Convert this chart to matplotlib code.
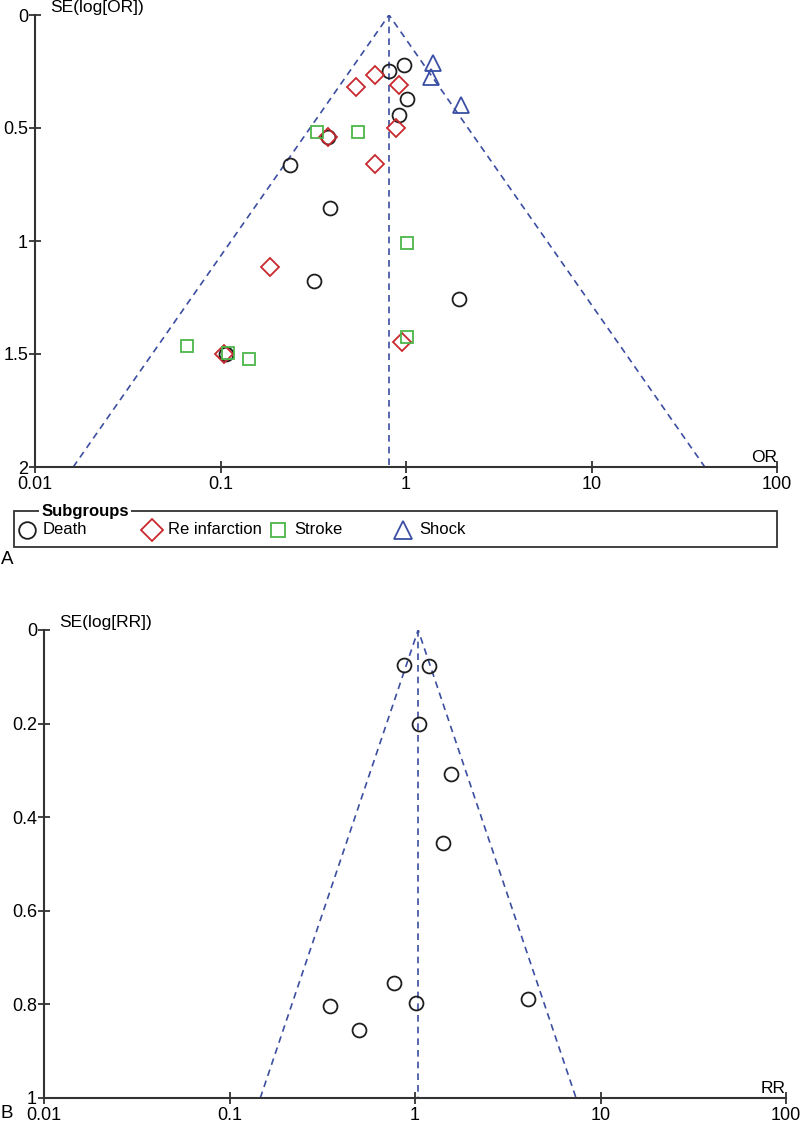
import numpy as np
import matplotlib
matplotlib.use("Agg")
import matplotlib.pyplot as plt
from matplotlib.lines import Line2D
from matplotlib.patches import Rectangle

plt.rcParams['font.family'] = ['Liberation Sans', 'DejaVu Sans']

# ---- panel A: OR funnel plot
death_or = [0.81, 0.975, 1.01, 0.92, 0.38, 0.236, 0.39, 0.32, 1.93, 0.107]
death_se = [0.248, 0.221, 0.372, 0.442, 0.54, 0.664, 0.853, 1.175, 1.257, 1.50]
reinf_or = [0.68, 0.54, 0.92, 0.88, 0.38, 0.68, 0.186, 0.105, 0.95]
reinf_se = [0.265, 0.32, 0.31, 0.50, 0.54, 0.66, 1.115, 1.50, 1.447]
stroke_or = [0.33, 0.55, 1.01, 1.01, 0.066, 0.11, 0.142]
stroke_se = [0.518, 0.516, 1.009, 1.425, 1.465, 1.495, 1.52]
shock_or = [1.40, 1.37, 1.98]
shock_se = [0.211, 0.273, 0.40]
pooled_or = 0.81
se_max_a = 2.0

# ---- panel B: RR funnel plot
rr = [0.87, 1.19, 1.05, 1.57, 1.42, 0.77, 0.347, 1.01, 4.08, 0.50]
rr_se = [0.074, 0.076, 0.201, 0.307, 0.455, 0.754, 0.803, 0.797, 0.788, 0.855]
pooled_rr = 1.04
se_max_b = 1.0

x_ticks = [0.01, 0.1, 1, 10, 100]
x_ticklabels = ['0.01', '0.1', '1', '10', '100']
y_ticks_a = [0, 0.5, 1, 1.5, 2]
y_ticklabels_a = ['0', '0.5', '1', '1.5', '2']
y_ticks_b = [0, 0.2, 0.4, 0.6, 0.8, 1]
y_ticklabels_b = ['0', '0.2', '0.4', '0.6', '0.8', '1']

subgroups = ['Death', 'Re infarction', 'Stroke', 'Shock']
markers = ['o', 'D', 's', '^']
msizes = [10, 9.5, 8.5, 11.5]
colors = ['#1e1e1e', '#c8282e', '#4db64a', '#3a4fa3']
line_col = '#3b4ea0'
axis_col = '#333333'

W, H = 800, 1127
fig = plt.figure(figsize=(W / 100, H / 100), dpi=100)


def px(x0, y0, x1, y1):
    # pixel box (top-left origin) -> figure fraction rect
    return [x0 / W, 1 - y1 / H, (x1 - x0) / W, (y1 - y0) / H]


def style_axes(ax, se_max, yticks, yticklabels, ylab, xlab):
    ax.set_xscale('log')
    ax.set_xlim(0.01, 100)
    ax.set_ylim(se_max, 0)
    ax.spines['top'].set_visible(False)
    ax.spines['right'].set_visible(False)
    for s in ['left', 'bottom']:
        ax.spines[s].set_color(axis_col)
        ax.spines[s].set_linewidth(1.5)
    ax.set_xticks(x_ticks)
    ax.set_xticklabels(x_ticklabels)
    ax.xaxis.set_minor_locator(matplotlib.ticker.NullLocator())
    ax.set_yticks(yticks)
    ax.set_yticklabels(yticklabels)
    ax.tick_params(direction='inout', length=8, width=1.3, color=axis_col,
                   labelsize=13)
    ax.tick_params(axis='x', pad=2.5)
    ax.tick_params(axis='y', pad=1)
    ax.text(0.012, 0, ylab, fontsize=12.5, ha='left', va='bottom',
            transform=ax.transData, clip_on=False)
    ax.text(1, 0.004, xlab, fontsize=12.5, ha='right', va='bottom',
            transform=ax.transAxes, clip_on=False)


def funnel(ax, pooled, se_max):
    lo = pooled * np.exp(-1.96 * se_max)
    hi = pooled * np.exp(1.96 * se_max)
    kw = dict(color=line_col, lw=1.2, ls=(0, (4, 3)), zorder=1)
    ax.plot([lo, pooled, hi], [se_max, 0, se_max], **kw)
    ax.plot([pooled, pooled], [0, se_max], **kw)


# panel A
ax1 = fig.add_axes(px(35, 15, 777, 467))
funnel(ax1, pooled_or, se_max_a)
groups = [(death_or, death_se), (reinf_or, reinf_se),
          (stroke_or, stroke_se), (shock_or, shock_se)]
for (xs, ys), m, ms, c in zip(groups, markers, msizes, colors):
    ax1.plot(xs, ys, ls='none', marker=m, ms=ms, mfc='none', mec=c, mew=1.3,
             clip_on=False, zorder=3)
style_axes(ax1, se_max_a, y_ticks_a, y_ticklabels_a, 'SE(log[OR])', 'OR')

# legend box
fig.add_artist(Rectangle((14 / W, 1 - 547 / H), (777 - 14) / W, 36 / H,
                         transform=fig.transFigure, fill=False,
                         ec=axis_col, lw=1.3))
fig.text(85 / W, 1 - 511 / H, 'Subgroups', fontsize=12, fontweight='bold',
         ha='center', va='center',
         bbox=dict(fc='white', ec='none', pad=1.5))
for i, (name, m, ms, c) in enumerate(zip(subgroups, markers, msizes, colors)):
    xm = 27 + i * 125.4
    fig.add_artist(Line2D([xm / W], [1 - 530 / H], transform=fig.transFigure,
                          ls='none', marker=m, ms=ms + 2, mfc='none', mec=c,
                          mew=1.3))
    fig.text((xm + 16) / W, 1 - 530 / H, name, fontsize=12,
             ha='left', va='center')
fig.text(1 / W, 1 - 559 / H, 'A', fontsize=13.5, ha='left', va='center')

# panel B
ax2 = fig.add_axes(px(44, 630, 786, 1098))
funnel(ax2, pooled_rr, se_max_b)
ax2.plot(rr, rr_se, ls='none', marker='o', ms=10, mfc='none',
         mec=colors[0], mew=1.3, zorder=3)
style_axes(ax2, se_max_b, y_ticks_b, y_ticklabels_b, 'SE(log[RR])', 'RR')
fig.text(1 / W, 1 - 1113 / H, 'B', fontsize=13.5, ha='left', va='center')

fig.savefig('out.png', dpi=100, facecolor='white')
